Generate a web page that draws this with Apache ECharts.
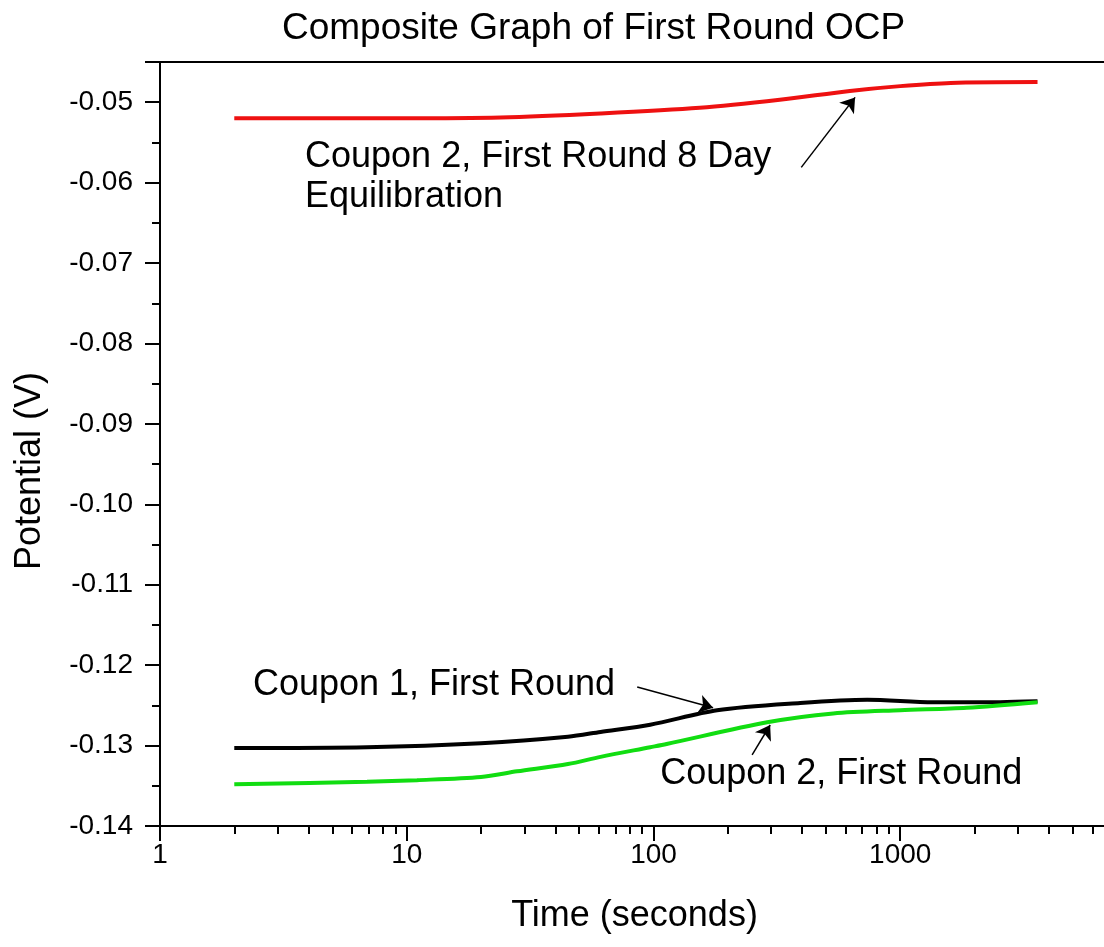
<!DOCTYPE html>
<html><head><meta charset="utf-8">
<script src="https://cdn.jsdelivr.net/npm/echarts@6/dist/echarts.min.js"></script>
<style>html,body{margin:0;padding:0;background:#fff}#c{width:1104px;height:947px}</style>
</head><body><div id="c"></div>
<script>
// ---- data ----
const redTime   = [2, 9.4, 24, 61, 154, 325, 625, 1000, 1600, 3600];
const redV      = [-0.0520, -0.0520, -0.0519, -0.0514, -0.0507, -0.0497, -0.0486, -0.0480, -0.0476, -0.0475];
const blackTime = [2, 6.9, 20, 45, 61, 97, 181, 393, 735, 1360, 2540, 3600];
const blackV    = [-0.1303, -0.1302, -0.1297, -0.1289, -0.1283, -0.1274, -0.1256, -0.1247, -0.1243, -0.1246, -0.1246, -0.1245];
const greenTime = [2, 6.9, 11, 20, 28, 45, 61, 97, 113, 289, 535, 1000, 1860, 3600];
const greenV    = [-0.1348, -0.1345, -0.1343, -0.1339, -0.1332, -0.1323, -0.1314, -0.1302, -0.1298, -0.1271, -0.1260, -0.1256, -0.1253, -0.1246];
const minorTickValues = [2,3,4,5,6,7,8,9,20,30,40,50,60,70,80,90,200,300,400,500,600,700,800,900,2000,3000,4000,5000,6000,7000,8000,9000];
// annotations: [text, anchor time, anchor V]
const noteRed   = ['Coupon 2, First Round 8 Day\nEquilibration', 3.87, -0.0593];
const noteBlack = ['Coupon 1, First Round', 2.38, -0.12247];
const noteGreen = ['Coupon 2, First Round', 106.4, -0.13354];
// arrows: [tail time, tail V, head time, head V]
const arrowRed   = [397, -0.0581, 656, -0.0494];
const arrowBlack = [85.9, -0.12272, 174.4, -0.1253];
const arrowGreen = [251, -0.13117, 297, -0.12744];

const FONT = "'Liberation Sans', Arial, sans-serif";
const zip = (a, b) => a.map((v, i) => [v, b[i]]);

function note(n) {
  return {
    symbol: 'circle', symbolSize: 0, silent: true,
    label: { show: true, position: 'right', distance: 0, formatter: n[0], color: '#000',
             fontFamily: FONT, fontSize: 36, lineHeight: 40, align: 'left', verticalAlign: 'middle' },
    data: [{ coord: [n[1], n[2]] }]
  };
}
function arrow(a) {
  return {
    silent: true, symbol: ['none', 'arrow'], symbolSize: 14,
    lineStyle: { color: '#000', width: 1.5, type: 'solid' },
    itemStyle: { color: '#000' },
    label: { show: false },
    data: [[{ coord: [a[0], a[1]] }, { coord: [a[2], a[3]] }]]
  };
}

const chart = echarts.init(document.getElementById('c'), null, { renderer: 'canvas' });
chart.setOption({
  animation: false,
  backgroundColor: '#fff',
  title: { text: 'Composite Graph of First Round OCP', left: 277, top: 5,
           textStyle: { fontFamily: FONT, fontSize: 37, fontWeight: 'normal', color: '#000' } },
  grid: { left: 160, top: 62, bottom: 121, right: -43, outerBoundsMode: 'none', containLabel: false,
          show: true, borderColor: '#000', borderWidth: 2 },
  xAxis: [{
    type: 'log', logBase: 10, min: 1, max: 10000,
    name: 'Time (seconds)', nameLocation: 'middle', nameGap: 72,
    nameTextStyle: { fontFamily: FONT, fontSize: 36, color: '#000', padding: [0, 38, 0, 0] },
    axisLine: { lineStyle: { color: '#000', width: 2 } },
    axisTick: { show: true, length: 15, lineStyle: { color: '#000', width: 2 } },
    axisLabel: { margin: 15, fontFamily: FONT, fontSize: 28, color: '#000', formatter: v => String(v) },
    splitLine: { show: false }
  }, {
    type: 'log', logBase: 10, min: 1, max: 10000, position: 'bottom', gridIndex: 0,
    axisLine: { show: false },
    axisTick: { show: true, length: 8, customValues: minorTickValues, lineStyle: { color: '#000', width: 2 } },
    axisLabel: { show: false },
    splitLine: { show: false }
  }],
  yAxis: {
    type: 'value', min: -0.14, max: -0.045, interval: 0.01,
    name: 'Potential (V)', nameLocation: 'middle', nameGap: 112, nameRotate: 90,
    nameTextStyle: { fontFamily: FONT, fontSize: 36, color: '#000', padding: [0, 54, 0, 0] },
    axisLine: { lineStyle: { color: '#000', width: 2 } },
    axisTick: { show: true, length: 15, lineStyle: { color: '#000', width: 2 } },
    minorTick: { show: true, splitNumber: 2, length: 8, lineStyle: { color: '#000', width: 2 } },
    axisLabel: { margin: 27, fontFamily: FONT, fontSize: 28, color: '#000', showMaxLabel: false,
                 formatter: v => v.toFixed(2) },
    splitLine: { show: false }
  },
  series: [
    { type: 'line', name: 'red', data: zip(redTime, redV), smooth: 0.3, showSymbol: false,
      lineStyle: { color: '#ee1111', width: 4 }, markPoint: note(noteRed), markLine: arrow(arrowRed) },
    { type: 'line', name: 'black', data: zip(blackTime, blackV), smooth: 0.3, showSymbol: false,
      lineStyle: { color: '#000', width: 4 }, markPoint: note(noteBlack), markLine: arrow(arrowBlack) },
    { type: 'line', name: 'green', data: zip(greenTime, greenV), smooth: 0.3, showSymbol: false,
      lineStyle: { color: '#11dd11', width: 4 }, markPoint: note(noteGreen), markLine: arrow(arrowGreen) }
  ]
});
</script></body></html>
